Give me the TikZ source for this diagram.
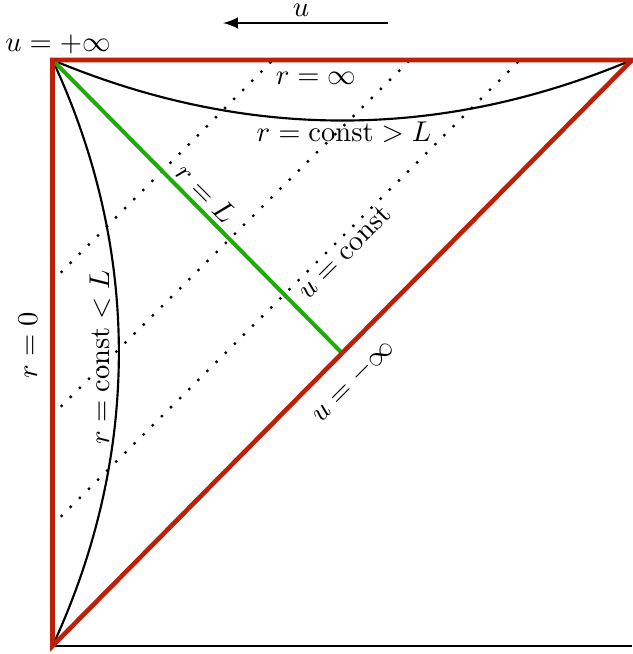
\documentclass[tikz,border=0pt]{standalone}
\definecolor{bred}{RGB}{188,32,8}
\definecolor{bgreen}{RGB}{30,172,8}
\begin{document}
\begin{tikzpicture}[x=0.35pt,y=-0.35pt,
  redline/.style={draw=bred,line width=1.6pt},
  greenline/.style={draw=bgreen,line width=1.4pt},
  curveline/.style={draw=black,line width=0.75pt},
  dotline/.style={draw=black,line width=1.15pt,line cap=round,dash pattern=on 0pt off 4.5pt},
  lab/.style={inner sep=1pt}]
\useasboundingbox (0,0) rectangle (632,654);
\coordinate (TL) at (52.5,60);
\coordinate (TR) at (632,60);
\coordinate (BL) at (52.5,646);
\coordinate (BR) at (632,646);
\coordinate (M) at (342,353);
\coordinate (d1a) at (52.5,281);
\coordinate (d1b) at (273,60);
\coordinate (d2a) at (52.5,415);
\coordinate (d2b) at (410,60);
\coordinate (d3a) at (52.5,525);
\coordinate (d3b) at (520,60);
\coordinate (arS) at (388,23);
\coordinate (arE) at (223,23);
% dotted u = const lines
\draw[dotline] (d1a) -- (d1b);
\draw[dotline] (d2a) -- (d2b);
\draw[dotline] (d3a) -- (d3b);
% curves
\draw[curveline] (TL) .. controls (245,140.7) and (440,140.7) .. (TR);
\draw[curveline] (TL) .. controls (141,250) and (141,455) .. (BL);
% bottom line
\draw[line width=1pt] (BL) -- (BR);
% green
\draw[greenline] (TL) -- (M);
% red boundary
\draw[redline] (BL) -- (TL) -- (TR) -- cycle;
% arrow
\draw[line width=0.8pt,-latex] (arS) -- (arE);
% labels
\node[lab,inner sep=0pt] (lu) at (301,10) {$u$};
\node[lab] (lup) at (58,44) {$u=+\infty$};
\node[lab] (lrinf) at (316,78) {$r=\infty$};
\node[lab] (lrg) at (344,132) {$r=\mathrm{const}>L$};
\node[lab,rotate=-45] (lrL) at (206,193) {$r=L$};
\node[lab,rotate=45] (luc) at (344,252) {$u=\mathrm{const}$};
\node[lab,rotate=45] (lum) at (353,381) {$u=-\infty$};
\node[lab,rotate=90] (lr0) at (28,345) {$r=0$};
\node[lab,rotate=90] (lrl) at (100,357) {$r=\mathrm{const}<L$};
\end{tikzpicture}
\end{document}
